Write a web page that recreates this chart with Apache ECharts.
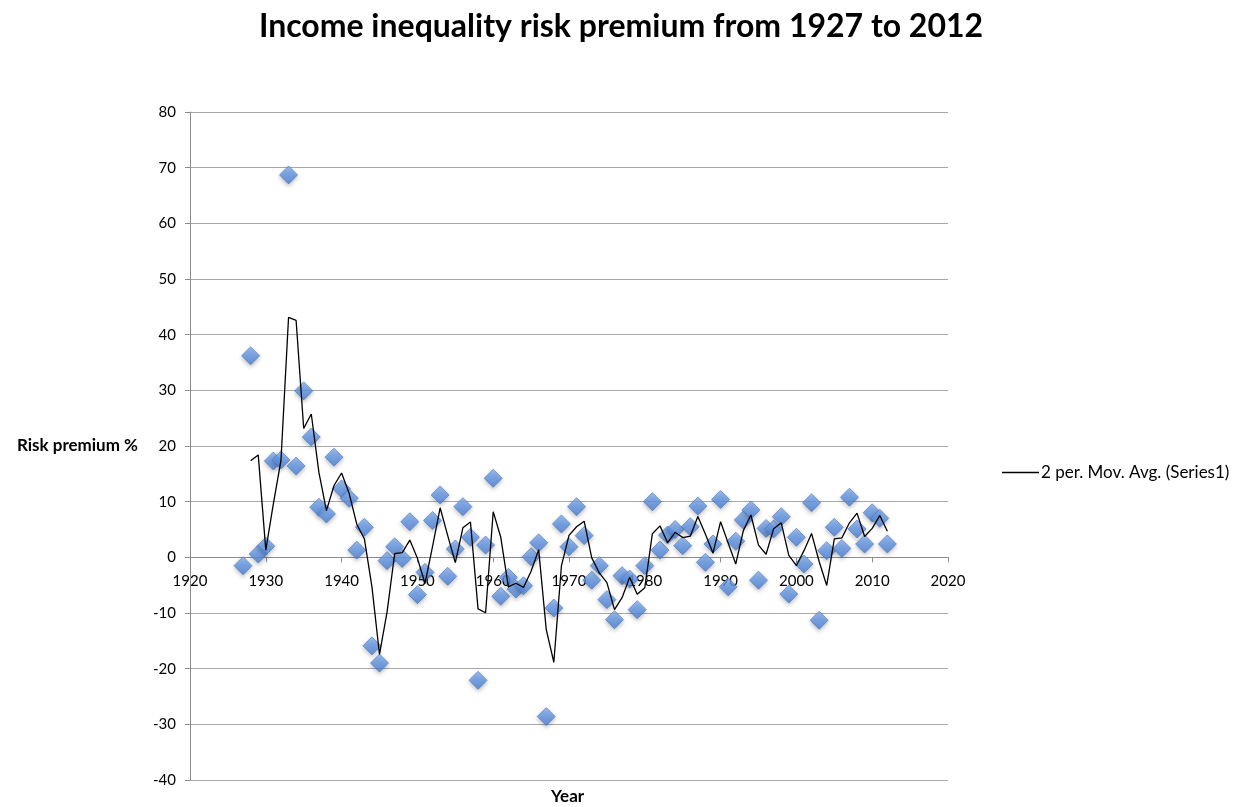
<!DOCTYPE html>
<html>
<head>
<meta charset="utf-8">
<script src="https://cdn.jsdelivr.net/npm/echarts@6/dist/echarts.min.js"></script>
<style>
html,body{margin:0;padding:0;background:#fff;}
#chart{width:1242px;height:807px;}
</style>
</head>
<body>
<div id="chart"></div>
<script>
// Years of observations
var years = [
  1927,1928,1929,1930,1931,1932,1933,1934,1935,1936,1937,1938,1939,
  1940,1941,1942,1943,1944,1945,1946,1947,1948,1949,
  1950,1951,1952,1953,1954,1955,1956,1957,1958,1959,
  1960,1961,1962,1963,1964,1965,1966,1967,1968,1969,
  1970,1971,1972,1973,1974,1975,1976,1977,1978,1979,
  1980,1981,1982,1983,1984,1985,1986,1987,1988,1989,
  1990,1991,1992,1993,1994,1995,1996,1997,1998,1999,
  2000,2001,2002,2003,2004,2005,2006,2007,2008,2009,
  2010,2011,2012
];
// Risk premium %
var premium = [
  -1.5,36.2,0.6,2.0,17.3,17.5,68.7,16.4,29.9,21.6,9.0,7.8,18.0,
  12.3,10.6,1.3,5.4,-15.9,-19.0,-0.6,1.9,-0.2,6.4,
  -6.7,-2.7,6.6,11.2,-3.4,1.5,9.1,3.6,-22.1,2.2,
  14.2,-7.0,-3.6,-5.7,-5.1,0.1,2.6,-28.6,-9.1,6.0,
  1.9,9.1,3.9,-4.1,-1.5,-7.6,-11.2,-3.3,-3.9,-9.4,
  -1.5,10.0,1.3,4.0,5.0,2.1,5.5,9.2,-0.9,2.4,
  10.4,-5.3,2.9,6.7,8.5,-4.1,5.2,5.1,7.3,-6.6,
  3.6,-1.2,9.8,-11.3,1.2,5.4,1.6,10.8,5.1,2.4,
  8.0,7.0,2.4
];
var xTicks = {min: 1920, max: 2020, step: 10};
var yTicks = {min: -40, max: 80, step: 10};
var titleText = 'Income inequality risk premium from 1927 to 2012';
var xName = 'Year';
var yName = 'Risk premium %';
var legendName = '2 per. Mov. Avg. (Series1)';

var scatterData = years.map(function(y, i){ return [y, premium[i]]; });
// Excel-style 2-period moving average trendline of the series
var maData = [];
for (var i = 1; i < years.length; i++) {
  maData.push([years[i], (premium[i-1] + premium[i]) / 2]);
}

var FONT = 'Lato, "Open Sans", sans-serif';
var GRID_TOP = 112, GRID_BOTTOM = 27, H = 807;
var plotH = H - GRID_TOP - GRID_BOTTOM;
// shift the horizontal axis up so it crosses the vertical axis at 0 (like Excel)
var xAxisOffset = -plotH * (0 - yTicks.min) / (yTicks.max - yTicks.min);

var chart = echarts.init(document.getElementById('chart'), null, {renderer: 'canvas'});
chart.setOption({
  backgroundColor: '#ffffff',
  animation: false,
  title: {
    text: titleText,
    left: 'center',
    top: 6,
    textStyle: {fontFamily: FONT, fontWeight: 'bold', fontSize: 32, color: '#000'}
  },
  graphic: [{
    type: 'text',
    left: 570 - 19,
    top: 788,
    style: {text: xName, font: 'bold 17px ' + FONT, fill: '#000'}
  }],
  legend: {
    data: [{name: legendName, icon: 'rect'}],
    left: 1002,
    top: 464,
    padding: 0,
    itemWidth: 37,
    itemHeight: 1.5,
    itemGap: 4,
    textStyle: {fontFamily: FONT, fontSize: 17, color: '#000', padding: [0,0,0,-3]}
  },
  grid: {left: 190, right: 294, top: GRID_TOP, bottom: GRID_BOTTOM, containLabel: false},
  xAxis: {
    type: 'value',
    min: xTicks.min, max: xTicks.max, interval: xTicks.step,
    offset: xAxisOffset,
    axisLine: {show: true, onZero: false, lineStyle: {color: '#8c8c8c', width: 1}},
    axisTick: {show: true, inside: false, length: 5, lineStyle: {color: '#8c8c8c'}},
    axisLabel: {fontFamily: FONT, fontSize: 15, color: '#000', margin: 16,
      formatter: function(v){ return String(v); }},
    splitLine: {show: false}
  },
  yAxis: {
    type: 'value',
    min: yTicks.min, max: yTicks.max, interval: yTicks.step,
    name: yName,
    nameLocation: 'middle',
    nameRotate: 0,
    nameGap: 52,
    nameTextStyle: {fontFamily: FONT, fontWeight: 'bold', fontSize: 17, color: '#000'},
    axisLine: {show: true, lineStyle: {color: '#8c8c8c', width: 1}},
    axisTick: {show: true, inside: false, length: 5, lineStyle: {color: '#8c8c8c'}},
    axisLabel: {fontFamily: FONT, fontSize: 15, color: '#000', margin: 14},
    splitLine: {show: true, lineStyle: {color: '#a8a8a8', width: 1}}
  },
  series: [
    {
      name: 'Series1',
      type: 'scatter',
      data: scatterData,
      symbol: 'diamond',
      symbolSize: 18,
      z: 2,
      itemStyle: {
        color: new echarts.graphic.LinearGradient(0, 0, 0, 1, [
          {offset: 0, color: '#8ab4f0'},
          {offset: 0.5, color: '#6196e6'},
          {offset: 1, color: '#4a7fd4'}
        ]),
        borderColor: '#4775bd',
        borderWidth: 0.8,
        shadowBlur: 4,
        shadowOffsetY: 2,
        shadowColor: 'rgba(0,0,0,0.3)'
      }
    },
    {
      name: legendName,
      type: 'line',
      data: maData,
      showSymbol: false,
      symbol: 'none',
      z: 3,
      lineStyle: {color: '#000', width: 1.3},
      itemStyle: {color: '#000'}
    }
  ]
});
</script>
</body>
</html>
